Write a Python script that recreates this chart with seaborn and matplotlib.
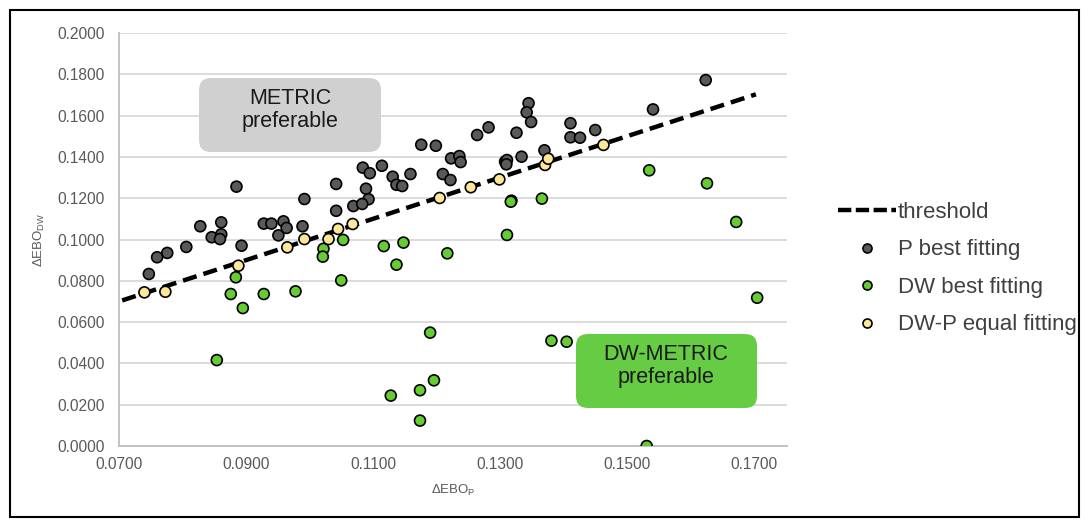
import numpy as np
import pandas as pd
import matplotlib
matplotlib.use('Agg')
import matplotlib.pyplot as plt
import seaborn as sns
from matplotlib.patches import FancyBboxPatch, Rectangle
from matplotlib.lines import Line2D

# data

p_x = [0.0885, 0.0992, 0.0828, 0.0861, 0.0846, 0.0861, 0.0859, 0.0893, 0.0928, 0.0940,
       0.0959, 0.0964, 0.0951, 0.0989, 0.1042, 0.1042, 0.0806, 0.0776, 0.0760, 0.0747,
       0.1345, 0.1342, 0.1349, 0.1282, 0.1264, 0.1326, 0.1176, 0.1199, 0.1223, 0.1236,
       0.1238, 0.1210, 0.1222, 0.1308, 0.1311, 0.1310, 0.1334, 0.1370, 0.1411, 0.1411,
       0.1084, 0.1095, 0.1114, 0.1131, 0.1137, 0.1146, 0.1159, 0.1089, 0.1093, 0.1069,
       0.1083, 0.1624, 0.1541, 0.1426, 0.1450]
p_y = [0.1256, 0.1196, 0.1064, 0.1083, 0.1011, 0.1025, 0.1002, 0.0970, 0.1077, 0.1077,
       0.1088, 0.1056, 0.1020, 0.1064, 0.1269, 0.1139, 0.0964, 0.0935, 0.0914, 0.0833,
       0.1660, 0.1616, 0.1569, 0.1543, 0.1506, 0.1517, 0.1459, 0.1454, 0.1393, 0.1404,
       0.1375, 0.1317, 0.1288, 0.1377, 0.1385, 0.1364, 0.1401, 0.1432, 0.1563, 0.1495,
       0.1348, 0.1321, 0.1357, 0.1304, 0.1265, 0.1259, 0.1317, 0.1246, 0.1195, 0.1162,
       0.1172, 0.1772, 0.1630, 0.1493, 0.1530]

dw_x = [0.0884, 0.0876, 0.0895, 0.0928, 0.0978, 0.1022, 0.1021, 0.1050, 0.0854, 0.1053,
        0.1318, 0.1317, 0.1366, 0.1311, 0.1117, 0.1148, 0.1217, 0.1137, 0.1190, 0.1381,
        0.1405, 0.1196, 0.1174, 0.1128, 0.1174, 0.1535, 0.1626, 0.1672, 0.1705, 0.1531]
dw_y = [0.0817, 0.0736, 0.0668, 0.0736, 0.0749, 0.0955, 0.0917, 0.0802, 0.0416, 0.0998,
        0.1188, 0.1183, 0.1198, 0.1022, 0.0968, 0.0985, 0.0933, 0.0878, 0.0549, 0.0510,
        0.0505, 0.0318, 0.0270, 0.0244, 0.0123, 0.1335, 0.1272, 0.1085, 0.0718, 0.0000]

eq_x = [0.0740, 0.0773, 0.0888, 0.0965, 0.0992, 0.1030, 0.1045, 0.1068, 0.1205, 0.1254,
        0.1299, 0.1371, 0.1376, 0.1463]
eq_y = [0.0744, 0.0747, 0.0873, 0.0962, 0.1002, 0.1002, 0.1051, 0.1075, 0.1201, 0.1253,
        0.1291, 0.1361, 0.1391, 0.1458]

threshold_x = [0.0705, 0.1703]
threshold_y = [0.0705, 0.1703]

x_ticks = [0.07, 0.09, 0.11, 0.13, 0.15, 0.17]
y_ticks = [0.00, 0.02, 0.04, 0.06, 0.08, 0.10, 0.12, 0.14, 0.16, 0.18, 0.20]

groups = ['P best fitting', 'DW best fitting', 'DW-P equal fitting']
colors = {'P best fitting': '#595959', 'DW best fitting': '#66cc33', 'DW-P equal fitting': '#ffe699'}

df = pd.DataFrame({
    'x': p_x + dw_x + eq_x,
    'y': p_y + dw_y + eq_y,
    'group': [groups[0]] * len(p_x) + [groups[1]] * len(dw_x) + [groups[2]] * len(eq_x),
})
thr = pd.DataFrame({'x': threshold_x, 'y': threshold_y})

sns.set_style('white')
plt.rcParams['font.family'] = ['Liberation Sans', 'DejaVu Sans']

fig = plt.figure(figsize=(10.88, 5.2), dpi=100)
ax = fig.add_axes([119 / 1088, 1 - 446 / 520, 668 / 1088, 413 / 520])

# threshold line
sns.lineplot(data=thr, x='x', y='y', ax=ax, color='black', lw=3.2,
             dashes=False, linestyle=(0, (3.2, 1.6)), zorder=2, legend=False)

# points
sns.scatterplot(data=df, x='x', y='y', hue='group', palette=colors, ax=ax,
                s=62, edgecolor='black', linewidth=1.2, zorder=3, legend=False)

ax.set_xlim(0.07, 0.1752)
ax.set_ylim(0, 0.2)
ax.set_xticks(x_ticks)
ax.set_yticks(y_ticks)
ax.set_xticklabels([f'{v:.4f}' for v in x_ticks])
ax.set_yticklabels([f'{v:.4f}' for v in y_ticks])
ax.tick_params(axis='both', length=0, labelsize=11.2, labelcolor='#595959')
ax.tick_params(axis='y', pad=10)
ax.tick_params(axis='x', pad=8)
ax.grid(axis='y', color='#d9d9d9', lw=1.3)
ax.grid(axis='x', visible=False)
for s in ['top', 'right']:
    ax.spines[s].set_visible(False)
for s in ['left', 'bottom']:
    ax.spines[s].set_color('#bfbfbf')
    ax.spines[s].set_linewidth(1.3)

ax.set_xlabel('ΔEBO$_\\mathregular{P}$', fontsize=9.5, color='#595959', labelpad=8)
ax.set_ylabel('ΔEBO$_\\mathregular{DW}$', fontsize=9.5, color='#595959', labelpad=8)

# annotation boxes
asp = 668 / 413
box1 = FancyBboxPatch((0.1198, 0.7119), 0.2724, 0.1791, transform=ax.transAxes,
                      boxstyle='round,pad=0,rounding_size=0.018', mutation_aspect=asp,
                      facecolor='#d0d0d0', edgecolor='none', zorder=1)
ax.add_patch(box1)
ax.text(0.256, 0.814, 'METRIC\npreferable', transform=ax.transAxes, ha='center',
        va='center', fontsize=15.5, color='#1a1a1a', linespacing=1.12, zorder=1.5)

box2 = FancyBboxPatch((0.6841, 0.0920), 0.2710, 0.1792, transform=ax.transAxes,
                      boxstyle='round,pad=0,rounding_size=0.018', mutation_aspect=asp,
                      facecolor='#66cc44', edgecolor='none', zorder=1)
ax.add_patch(box2)
ax.text(0.819, 0.194, 'DW-METRIC\npreferable', transform=ax.transAxes, ha='center',
        va='center', fontsize=15.5, color='#1a1a1a', linespacing=1.12, zorder=4)

# legend
handles = [Line2D([0], [0], color='black', lw=3.2, linestyle=(0, (3.0, 1.0)))]
for g in groups:
    handles.append(Line2D([0], [0], marker='o', linestyle='none', markersize=6.5,
                          markerfacecolor=colors[g], markeredgecolor='black', markeredgewidth=1.2))
fig.legend(handles, ['threshold'] + groups, loc='upper left',
           bbox_to_anchor=(838 / 1088, 1 - 202 / 520), frameon=False, fontsize=16,
           handlelength=2.6, handletextpad=0.1, labelspacing=0.74, borderpad=0,
           borderaxespad=0, labelcolor='#404040')

# outer frame
fig.patches.append(Rectangle((10 / 1088, 3 / 520), 1069 / 1088, 507 / 520,
                             transform=fig.transFigure, fill=False, edgecolor='black', lw=1.5))

fig.savefig('out.png', dpi=100)
